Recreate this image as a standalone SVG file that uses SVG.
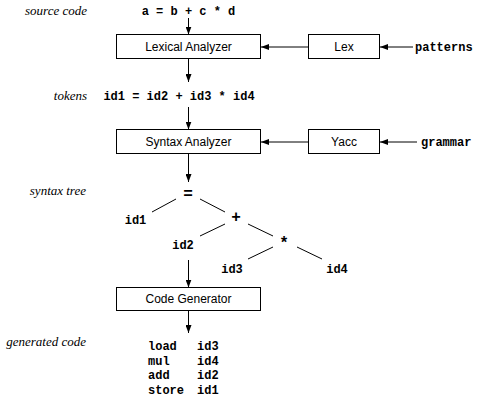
<svg xmlns="http://www.w3.org/2000/svg" width="483" height="400" viewBox="0 0 483 400">
<style>
.box{fill:#fff;stroke:#000;stroke-width:1}
.sans{font-family:"Liberation Sans",Arial,sans-serif;font-size:12px;fill:#000}
.mono{font-family:"Liberation Mono","Courier New",monospace;font-size:12px;font-weight:bold;fill:#000}
.op{font-size:16px}
.lbl{font-family:"Liberation Serif","Times New Roman",serif;font-style:italic;font-size:13px;fill:#000;text-anchor:end}
.ln{stroke:#000;stroke-width:1;fill:none}
.arr{stroke:#000;stroke-width:1;fill:none;marker-end:url(#ah)}
</style>
<defs>
<marker id="ah" viewBox="0 0 8 6" refX="8" refY="3" markerWidth="8" markerHeight="6" markerUnits="userSpaceOnUse" orient="auto">
<path d="M0,0 L8,3 L0,6 z" fill="#000"/>
</marker>
</defs>
<rect width="483" height="400" fill="#fff"/>
<g id="labels">
<text class="lbl" x="87" y="15">source code</text>
<text class="lbl" x="87" y="100">tokens</text>
<text class="lbl" x="86" y="195">syntax tree</text>
<text class="lbl" x="86" y="346">generated code</text>
</g>
<g id="source"><text class="mono" x="188.5" y="15" text-anchor="middle" xml:space="preserve">a = b + c * d</text></g>
<g id="lexical"><rect class="box" x="116.5" y="34.5" width="144" height="24"/><text class="sans" x="188.5" y="50.5" text-anchor="middle">Lexical Analyzer</text></g>
<g id="lex"><rect class="box" x="308.5" y="34.5" width="71" height="24"/><text class="sans" x="344" y="50.5" text-anchor="middle">Lex</text></g>
<g id="patterns"><text class="mono" x="415" y="50.5">patterns</text></g>
<g id="tokens"><text class="mono" x="179" y="100" text-anchor="middle" xml:space="preserve">id1 = id2 + id3 * id4</text></g>
<g id="syntax"><rect class="box" x="116.5" y="129.5" width="144" height="24"/><text class="sans" x="188.5" y="145.5" text-anchor="middle">Syntax Analyzer</text></g>
<g id="yacc"><rect class="box" x="308.5" y="129.5" width="71" height="24"/><text class="sans" x="344" y="145.5" text-anchor="middle">Yacc</text></g>
<g id="grammar"><text class="mono" x="421" y="145.5">grammar</text></g>
<g id="t-eq"><text class="mono op" x="188" y="199" text-anchor="middle">=</text></g>
<g id="t-id1"><text class="mono" x="135.5" y="224" text-anchor="middle">id1</text></g>
<g id="t-plus"><text class="mono op" x="236" y="222" text-anchor="middle">+</text></g>
<g id="t-id2"><text class="mono" x="183" y="249" text-anchor="middle">id2</text></g>
<g id="t-star"><text class="mono op" x="284" y="248" text-anchor="middle">*</text></g>
<g id="t-id3"><text class="mono" x="232" y="273" text-anchor="middle">id3</text></g>
<g id="t-id4"><text class="mono" x="337" y="273" text-anchor="middle">id4</text></g>
<g id="codegen"><rect class="box" x="116.5" y="287.5" width="144" height="23"/><text class="sans" x="188.5" y="303" text-anchor="middle">Code Generator</text></g>
<g id="code">
<text class="mono" x="148" y="350">load</text><text class="mono" x="197" y="350">id3</text>
<text class="mono" x="148" y="364.5">mul</text><text class="mono" x="197" y="364.5">id4</text>
<text class="mono" x="148" y="379">add</text><text class="mono" x="197" y="379">id2</text>
<text class="mono" x="148" y="393.5">store</text><text class="mono" x="197" y="393.5">id1</text>
</g>
<g id="connectors">
<line class="arr" x1="188.5" y1="18" x2="188.5" y2="34.5"/>
<line class="arr" x1="308.5" y1="47" x2="261" y2="47"/>
<line class="arr" x1="413" y1="47" x2="380" y2="47"/>
<line class="arr" x1="188.5" y1="59" x2="188.5" y2="82"/>
<line class="arr" x1="188.5" y1="107" x2="188.5" y2="129.5"/>
<line class="arr" x1="308.5" y1="142" x2="261" y2="142"/>
<line class="arr" x1="417" y1="142" x2="380" y2="142"/>
<line class="arr" x1="188.5" y1="154" x2="188.5" y2="182"/>
<line class="ln" x1="152" y1="212" x2="176" y2="199"/>
<line class="ln" x1="200" y1="199" x2="225" y2="212"/>
<line class="ln" x1="200" y1="236" x2="225" y2="224"/>
<line class="ln" x1="248" y1="224" x2="273" y2="236"/>
<line class="ln" x1="248" y1="259" x2="273" y2="247"/>
<line class="ln" x1="297" y1="247" x2="322" y2="259"/>
<line class="arr" x1="188.5" y1="260" x2="188.5" y2="287.5"/>
<line class="arr" x1="188.5" y1="311" x2="188.5" y2="333"/>
</g>
</svg>
